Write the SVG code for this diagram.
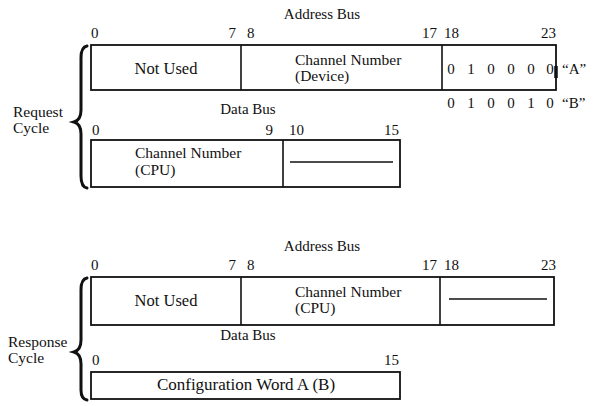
<svg xmlns="http://www.w3.org/2000/svg" width="600" height="406" viewBox="0 0 600 406" font-family="'Liberation Serif', 'DejaVu Serif', serif">
<style>
text{fill:#111;font-size:15px}
.lbl{font-size:15.5px}
.big{font-size:16.5px}
.box{fill:none;stroke:#111;stroke-width:1.8}
.ln{stroke:#111;stroke-width:1.6;fill:none}
.brace{fill:none;stroke:#111;stroke-width:3;stroke-linecap:round}
.m{text-anchor:middle}
.e{text-anchor:end}
</style>
<rect width="600" height="406" fill="#fff"/>

<g id="request-address">
<text x="322" y="19" class="m">Address Bus</text>
<text x="91" y="38">0</text>
<text x="236" y="38" class="e">7</text>
<text x="247" y="38">8</text>
<text x="437" y="38" class="e">17</text>
<text x="444" y="38">18</text>
<text x="556" y="38" class="e">23</text>
<rect x="91" y="45" width="465" height="45" class="box"/>
<line x1="241" y1="45" x2="241" y2="90" class="ln"/>
<line x1="442" y1="45" x2="442" y2="90" class="ln"/>
<line x1="556" y1="66" x2="556" y2="78" stroke="#111" stroke-width="3.5"/>
<text x="166" y="74" class="m big">Not Used</text>
<text x="295" y="65" class="lbl">Channel Number</text>
<text x="295" y="81" class="lbl">(Device)</text>
<text x="451" y="74" class="m">0</text>
<text x="471" y="74" class="m">1</text>
<text x="491" y="74" class="m">0</text>
<text x="511" y="74" class="m">0</text>
<text x="531" y="74" class="m">0</text>
<text x="550" y="74" class="m">0</text>
<text x="562" y="74">“A”</text>
<text x="451" y="108" class="m">0</text>
<text x="471" y="108" class="m">1</text>
<text x="491" y="108" class="m">0</text>
<text x="511" y="108" class="m">0</text>
<text x="531" y="108" class="m">1</text>
<text x="550" y="108" class="m">0</text>
<text x="562" y="108">“B”</text>
</g>

<g id="request-data">
<text x="248" y="114" class="m">Data Bus</text>
<text x="92" y="135">0</text>
<text x="273" y="135" class="e">9</text>
<text x="289" y="135">10</text>
<text x="399" y="135" class="e">15</text>
<rect x="91" y="140" width="309" height="47" class="box"/>
<line x1="283" y1="140" x2="283" y2="187" class="ln"/>
<line x1="290" y1="162" x2="393" y2="162" class="ln"/>
<text x="135" y="158" class="lbl">Channel Number</text>
<text x="135" y="175" class="lbl">(CPU)</text>
</g>

<g id="response-address">
<text x="322" y="251" class="m">Address Bus</text>
<text x="91" y="270">0</text>
<text x="236" y="270" class="e">7</text>
<text x="247" y="270">8</text>
<text x="437" y="270" class="e">17</text>
<text x="444" y="270">18</text>
<text x="556" y="270" class="e">23</text>
<rect x="91" y="277" width="463" height="48" class="box"/>
<line x1="241" y1="277" x2="241" y2="325" class="ln"/>
<line x1="440" y1="277" x2="440" y2="325" class="ln"/>
<line x1="449" y1="299" x2="547" y2="299" class="ln"/>
<text x="166" y="306" class="m big">Not Used</text>
<text x="295" y="297" class="lbl">Channel Number</text>
<text x="295" y="313" class="lbl">(CPU)</text>
</g>

<g id="response-data">
<text x="248" y="340" class="m">Data Bus</text>
<text x="92" y="365">0</text>
<text x="399" y="365" class="e">15</text>
<rect x="91" y="372" width="309" height="27" class="box"/>
<text x="246" y="390" class="m" style="font-size:17px">Configuration Word A (B)</text>
</g>

<g id="request-cycle">
<text x="13" y="117" class="lbl">Request</text>
<text x="13" y="133" class="lbl">Cycle</text>
</g>

<g id="response-cycle">
<text x="8" y="347" class="lbl">Response</text>
<text x="8" y="363" class="lbl">Cycle</text>
</g>

<g id="connectors">
<path class="brace" d="M87 46 Q81 47 81 58 L81 110 Q81 120 74 122 Q81 124 81 134 L81 176 Q81 187 87 188"/>
<path class="brace" d="M87 278 Q81 279 81 290 L81 340 Q81 350 74 352 Q81 354 81 364 L81 390 Q81 399 87 400"/>
</g>
</svg>
